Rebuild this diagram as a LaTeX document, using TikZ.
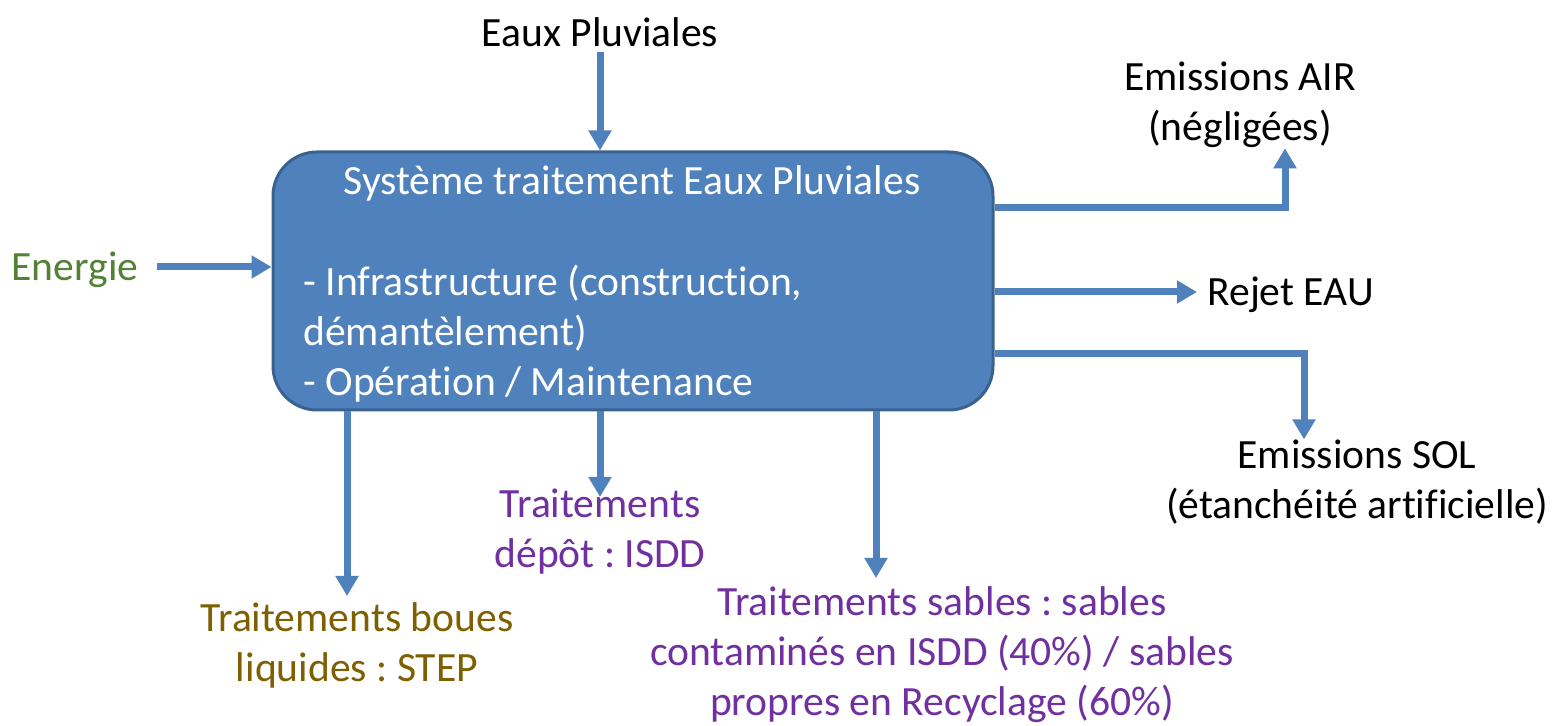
\documentclass[tikz,border=0pt]{standalone}
\usepackage{fontspec}
\setmainfont{Carlito}[RawFeature=-liga]
\usetikzlibrary{arrows.meta}
\definecolor{arr}{HTML}{4F81BD}
\definecolor{boxb}{HTML}{3A6290}
\definecolor{grn}{HTML}{538135}
\definecolor{brn}{HTML}{7F6000}
\definecolor{prp}{HTML}{7030A0}
\frenchspacing
\begin{document}
\begin{tikzpicture}[x=0.5pt,y=-0.5pt,
  txt/.style={inner sep=0pt, align=center, font=\fontsize{20.8pt}{25pt}\selectfont},
  flow/.style={draw=arr, line width=3.5pt, -{Triangle[length=10pt,width=11pt]}},
  sysbox/.style={draw=boxb, line width=1.5pt, fill=arr, rounded corners=22pt,
    minimum width=360pt, minimum height=129pt, inner sep=0pt}]
\useasboundingbox (0,0) rectangle (1555,726);
\fill[white] (0,0) rectangle (1555,726);
% main box
\node[sysbox] (sys) at (633,281) {};
\node[txt, text=white] (title) at (632,183) {Système traitement Eaux Pluviales};
\node[txt, text=white, align=left, anchor=west] (body) at (303,334)
  {- Infrastructure (construction,\\démantèlement)\\- Opération / Maintenance};
% outer labels
\node[txt] (ep) at (600,32) {Eaux Pluviales};
\node[txt, text=grn] (en) at (75,270) {Energie};
\node[txt] (air) at (1240,105) {Emissions AIR\\(négligées)};
\node[txt, anchor=west] (rej) at (1207,295) {Rejet EAU};
\node[txt] (sol) at (1357,482) {Emissions SOL\\(étanchéité artificielle)};
\node[txt, text=brn] (boues) at (357,645) {Traitements boues\\liquides : STEP};
\node[txt, text=prp] (isdd) at (600,532) {Traitements\\dépôt : ISDD};
\node[txt, text=prp] (sab) at (942,655) {Traitements sables : sables\\contaminés en ISDD (40\%) / sables\\propres en Recyclage (60\%)};
% helper coordinates
\coordinate (e0) at (157,267);
\coordinate (p0) at (600,52);
\coordinate (r0) at (1197,292);
\coordinate (a1) at (1285,208);
\coordinate (s1) at (1304,354);
\coordinate (d1) at (347,596);
\coordinate (d2) at (600,497);
\coordinate (d3) at (876,578);
% connectors
\draw[flow] (p0) -- (p0 |- sys.north);
\draw[flow] (e0) -- (e0 -| sys.west);
\draw[flow] (sys.east |- a1) -- (a1) -- (a1 |- air.south);
\draw[flow] (sys.east |- r0) -- (r0);
\draw[flow] (sys.east |- s1) -- (s1) -- (s1 |- sol.north);
\draw[flow] (sys.south -| d1) -- (d1);
\draw[flow] (sys.south -| d2) -- (d2);
\draw[flow] (sys.south -| d3) -- (d3);
\end{tikzpicture}
\end{document}
